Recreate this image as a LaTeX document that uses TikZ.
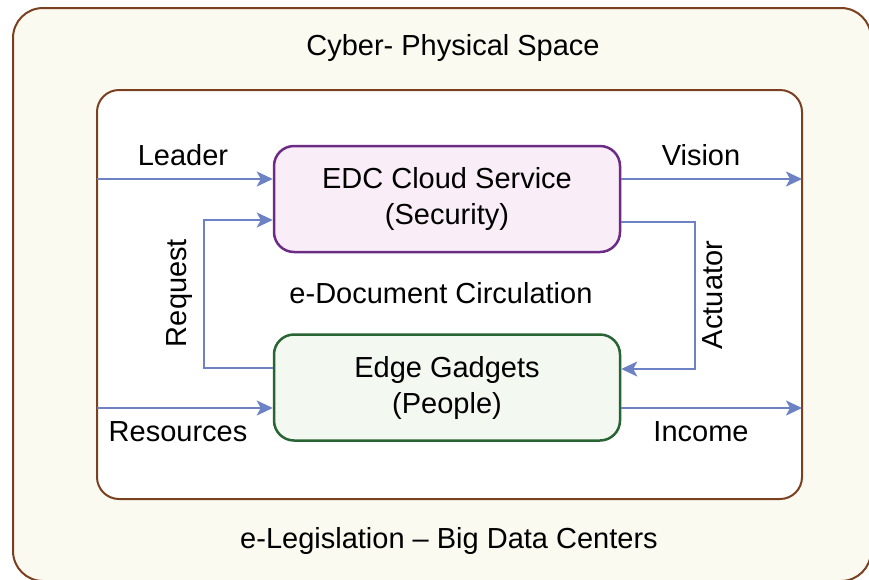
\documentclass[tikz,border=0pt]{standalone}
\usepackage{fontspec}
\setmainfont{Liberation Sans}
\usetikzlibrary{arrows.meta, positioning, calc}
\definecolor{mybrown}{RGB}{122,64,32}
\definecolor{mycream}{RGB}{250,250,240}
\definecolor{mypurple}{RGB}{108,44,134}
\definecolor{mypink}{RGB}{249,238,248}
\definecolor{mygreen}{RGB}{40,100,52}
\definecolor{mymint}{RGB}{243,248,241}
\definecolor{myblue}{RGB}{108,130,196}

\begin{document}
\begin{tikzpicture}[x=1pt,y=-1pt,font=\fontsize{29}{36}\selectfont,
  box/.style={draw, line width=2.5pt, rounded corners=20pt, minimum width=346pt,
    minimum height=106pt, align=center},
  flow/.style={myblue, line width=2pt, -{Stealth[length=16pt,width=15pt,inset=4pt]}},
  lbl/.style={inner sep=0pt}]

\useasboundingbox (0,0) rectangle (869,579);
\clip (0,0) rectangle (869,579);

%%%%%%%%%% outer and inner frames
\fill[mycream, draw=mybrown, line width=2pt, rounded corners=30pt] (13,8) rectangle (871,581);
\fill[white, draw=mybrown, line width=2pt, rounded corners=22pt] (97,90) rectangle (802,499);

\node[lbl] (space) at (453,48) {Cyber- Physical Space};
\node[lbl] (centers) at (449,541) {e-Legislation -- Big Data Centers};

%%%%%%%%%% the two boxes
\node[box, draw=mypurple, fill=mypink] (edc) at (447,199) {\raisebox{-3pt}{EDC Cloud Service}\\\raisebox{-3pt}{(Security)}};
\node[box, draw=mygreen, fill=mymint] (edge) at (447,387.5) {\raisebox{-3pt}{Edge Gadgets}\\\raisebox{-3pt}{(People)}};
\node[lbl] (circ) at (441,293) {e-Document Circulation};

%%%%%%%%%% free ends on the inner frame
\coordinate (leaderin) at (97,179);
\coordinate (visionout) at (802,179);
\coordinate (resin) at (97,408);
\coordinate (incomeout) at (802,408);

\draw[flow] (leaderin) -- (leaderin -| edc.west);
\draw[flow] (visionout -| edc.east) -- (visionout);
\draw[flow] (resin) -- (resin -| edge.west);
\draw[flow] (incomeout -| edge.east) -- (incomeout);
\draw[flow] ($(edge.west)+(0,-19.5)$) -| (204,220) -- ($(edc.west)+(0,21)$);
\draw[flow] ($(edc.east)+(0,23)$) -| (695,369) -- ($(edge.east)+(0,-18.5)$);

\node[lbl] (leader) at (183,155) {Leader};
\node[lbl] (vision) at (701,155) {Vision};
\node[lbl] (resources) at (178,432) {Resources};
\node[lbl] (income) at (701,432) {Income};
\node[lbl, rotate=90] (request) at (180,293) {Request};
\node[lbl, rotate=90] (actuator) at (713,295) {Actuator};
\end{tikzpicture}
\end{document}
